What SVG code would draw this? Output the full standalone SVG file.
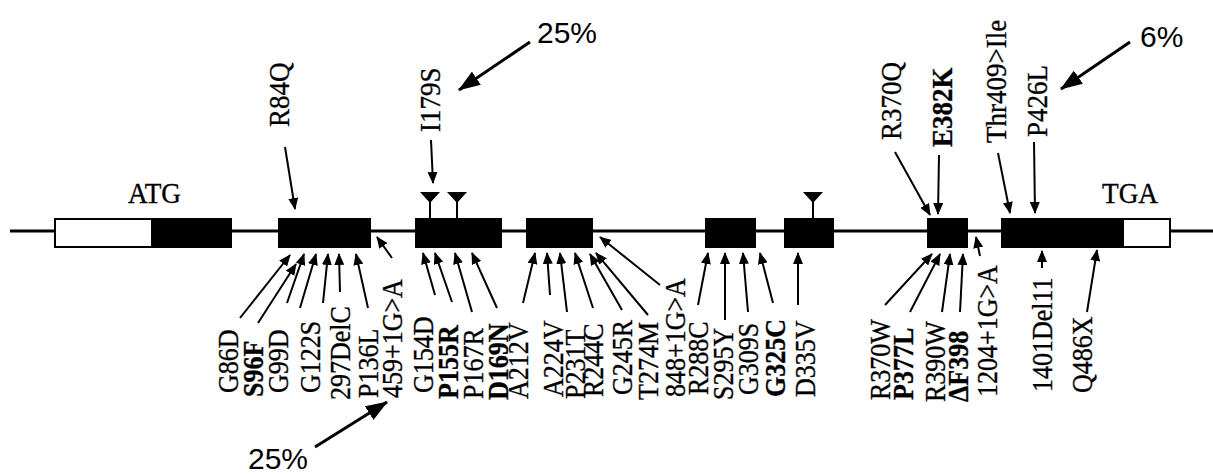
<svg xmlns="http://www.w3.org/2000/svg" width="1213" height="475" viewBox="0 0 1213 475">
<style>
.lb{font-family:"Liberation Serif","Times New Roman",serif;font-size:26px;fill:#000;stroke:#000;stroke-width:0.3}
.tl{font-family:"Liberation Serif","Times New Roman",serif;font-size:27px;fill:#000;stroke:#000;stroke-width:0.3}
.b{font-weight:bold}
.pc{font-family:"Liberation Sans",Arial,sans-serif;font-size:30px;fill:#000}
.ex{fill:#000;stroke:#000;stroke-width:2}
.ut{fill:#fff;stroke:#000;stroke-width:2}
.c{stroke:#000;stroke-width:2;fill:none;marker-end:url(#ah)}
.big{stroke:#000;stroke-width:3;fill:none;marker-end:url(#bh)}
</style>
<defs>
<marker id="ah" viewBox="0 0 12 10" refX="11" refY="5" markerWidth="12" markerHeight="10" markerUnits="userSpaceOnUse" orient="auto"><path d="M0,0 L12,5 L0,10 z" fill="#000"/></marker>
<marker id="bh" viewBox="0 0 22 16" refX="21" refY="8" markerWidth="22" markerHeight="16" markerUnits="userSpaceOnUse" orient="auto"><path d="M0,0 L22,8 L0,16 z" fill="#000"/></marker>
<path id="tri" d="M-10,0 L10,0 L0,11 z M-1,10 L1,10 L1,27 L-1,27 z" fill="#000"/>
</defs>
<rect width="1213" height="475" fill="#fff"/>
<g id="gene-line"><line x1="10" y1="231" x2="1213" y2="231" stroke="#000" stroke-width="3"/></g>
<g id="exon1"><rect class="ut" x="55" y="219" width="97" height="28"/><rect class="ex" x="152" y="219" width="79" height="28"/><text class="lb" x="128" y="203" transform="translate(128,203) scale(1.05,1.1) translate(-128,-203)">ATG</text></g>
<g id="exon2"><rect class="ex" x="279" y="219" width="91" height="28"/></g>
<g id="exon3"><rect class="ex" x="416" y="219" width="85" height="28"/><use href="#tri" x="430" y="192"/><use href="#tri" x="457" y="192"/></g>
<g id="exon4"><rect class="ex" x="527" y="219" width="65" height="28"/></g>
<g id="exon5"><rect class="ex" x="706" y="219" width="49" height="28"/></g>
<g id="exon6"><rect class="ex" x="785" y="219" width="48" height="28"/><use href="#tri" x="813" y="192"/></g>
<g id="exon7"><rect class="ex" x="928" y="219" width="39" height="28"/></g>
<g id="exon8"><rect class="ex" x="1002" y="219" width="121" height="28"/><rect class="ut" x="1123" y="219" width="47" height="28"/><text class="lb" x="1102" y="203" transform="translate(1102,203) scale(1.05,1.1) translate(-1102,-203)">TGA</text></g>

<g id="top-labels">
<text class="tl" transform="translate(289,127) rotate(-90) scale(1,1.1)">R84Q</text>
<text class="tl" transform="translate(440,132) rotate(-90) scale(1,1.1)">I179S</text>
<text class="tl" transform="translate(901,140) rotate(-90) scale(1,1.1)">R370Q</text>
<text class="tl b" transform="translate(952,147) rotate(-90) scale(1,1.1)">E382K</text>
<text class="tl" transform="translate(1006,143) rotate(-90) scale(1,1.1)">Thr409&gt;Ile</text>
<text class="tl" transform="translate(1047,137) rotate(-90) scale(1,1.1)">P426L</text>
</g>

<g id="bottom-labels">
<text class="lb" transform="translate(238,393) rotate(-90) scale(1,1.1)">G86D</text>
<text class="lb b" transform="translate(263,397) rotate(-90) scale(1,1.1)">S96F</text>
<text class="lb" transform="translate(288,393) rotate(-90) scale(1,1.1)">G99D</text>
<text class="lb" transform="translate(320,393) rotate(-90) scale(1,1.1)">G122S</text>
<text class="lb" transform="translate(350,400) rotate(-90) scale(1,1.1)">297DelC</text>
<text class="lb" transform="translate(378,398) rotate(-90) scale(1,1.1)">P136L</text>
<text class="lb" transform="translate(402,398) rotate(-90) scale(1,1.1)">459+1G&gt;A</text>
<text class="lb" transform="translate(433,393) rotate(-90) scale(1,1.1)">G154D</text>
<text class="lb b" transform="translate(458,399) rotate(-90) scale(1,1.1)">P155R</text>
<text class="lb" transform="translate(483,399) rotate(-90) scale(1,1.1)">P167R</text>
<text class="lb b" transform="translate(508,400) rotate(-90) scale(1,1.1)">D169N</text>
<text class="lb" transform="translate(528,399) rotate(-90) scale(1,1.1)">A212V</text>
<text class="lb" transform="translate(563,397) rotate(-90) scale(1,1.1)">A224V</text>
<text class="lb" transform="translate(585,399) rotate(-90) scale(1,1.1)">P231T</text>
<text class="lb" transform="translate(603,397) rotate(-90) scale(1,1.1)">R244C</text>
<text class="lb" transform="translate(632,395) rotate(-90) scale(1,1.1)">G245R</text>
<text class="lb" transform="translate(658,400) rotate(-90) scale(1,1.1)">T274M</text>
<text class="lb" transform="translate(685,397) rotate(-90) scale(1,1.1)">848+1G&gt;A</text>
<text class="lb" transform="translate(708,395) rotate(-90) scale(1,1.1)">R288C</text>
<text class="lb" transform="translate(733,400) rotate(-90) scale(1,1.1)">S295Y</text>
<text class="lb" transform="translate(758,395) rotate(-90) scale(1,1.1)">G309S</text>
<text class="lb b" transform="translate(785,397) rotate(-90) scale(1,1.1)">G325C</text>
<text class="lb" transform="translate(815,397) rotate(-90) scale(1,1.1)">D335V</text>
<text class="lb" transform="translate(890,400) rotate(-90) scale(1,1.1)">R370W</text>
<text class="lb b" transform="translate(913,400) rotate(-90) scale(1,1.1)">P377L</text>
<text class="lb" transform="translate(945,402) rotate(-90) scale(1,1.1)">R390W</text>
<text class="lb b" transform="translate(968,402) rotate(-90) scale(1,1.1)">ΔF398</text>
<text class="lb" transform="translate(997,397) rotate(-90) scale(1,1.1)">1204+1G&gt;A</text>
<text class="lb" transform="translate(1052,392) rotate(-90) scale(1,1.1)">1401Del11</text>
<text class="lb" transform="translate(1092,393) rotate(-90) scale(1,1.1)">Q486X</text>
</g>

<g id="percent-labels">
<text class="pc" x="537" y="43">25%</text>
<text class="pc" x="1140" y="47">6%</text>
<text class="pc" x="248" y="469">25%</text>
</g>

<g id="connectors">
<line class="big" x1="530" y1="42" x2="459" y2="90"/>
<line class="big" x1="1130" y1="42" x2="1061" y2="89"/>
<line class="big" x1="315" y1="447" x2="387" y2="402"/>

<line class="c" x1="285" y1="147" x2="295" y2="209"/>
<line class="c" x1="431" y1="140" x2="433" y2="183"/>
<line class="c" x1="895" y1="152" x2="930" y2="215"/>
<line class="c" x1="939" y1="155" x2="938" y2="214"/>
<line class="c" x1="998" y1="153" x2="1010" y2="213"/>
<line class="c" x1="1034" y1="142" x2="1035" y2="213"/>

<line class="c" x1="240" y1="318" x2="290" y2="255"/>
<line class="c" x1="258" y1="323" x2="296" y2="264"/>
<line class="c" x1="287" y1="303" x2="304" y2="254"/>
<line class="c" x1="300" y1="308" x2="316" y2="254"/>
<line class="c" x1="323" y1="303" x2="328" y2="254"/>
<line class="c" x1="340" y1="292" x2="339" y2="254"/>
<line class="c" x1="368" y1="308" x2="356" y2="254"/>
<line class="c" x1="392" y1="258" x2="377" y2="237"/>

<line class="c" x1="435" y1="295" x2="423" y2="253"/>
<line class="c" x1="452" y1="302" x2="435" y2="253"/>
<line class="c" x1="472" y1="312" x2="455" y2="253"/>
<line class="c" x1="497" y1="308" x2="472" y2="253"/>

<line class="c" x1="523" y1="303" x2="535" y2="253"/>
<line class="c" x1="550" y1="295" x2="547" y2="253"/>
<line class="c" x1="567" y1="312" x2="560" y2="253"/>
<line class="c" x1="593" y1="308" x2="575" y2="253"/>
<line class="c" x1="622" y1="310" x2="590" y2="254"/>
<line class="c" x1="648" y1="315" x2="596" y2="253"/>
<line class="c" x1="660" y1="285" x2="600" y2="237"/>

<line class="c" x1="698" y1="305" x2="708" y2="253"/>
<line class="c" x1="725" y1="320" x2="725" y2="253"/>
<line class="c" x1="748" y1="312" x2="743" y2="253"/>
<line class="c" x1="773" y1="303" x2="760" y2="253"/>
<line class="c" x1="798" y1="305" x2="798" y2="253"/>

<line class="c" x1="885" y1="305" x2="932" y2="254"/>
<line class="c" x1="910" y1="312" x2="940" y2="254"/>
<line class="c" x1="942" y1="312" x2="950" y2="254"/>
<line class="c" x1="960" y1="312" x2="963" y2="254"/>
<line class="c" x1="980" y1="256" x2="976" y2="237"/>

<line class="c" x1="1042" y1="268" x2="1042" y2="251"/>
<line class="c" x1="1087" y1="312" x2="1097" y2="250"/>
</g>
</svg>
